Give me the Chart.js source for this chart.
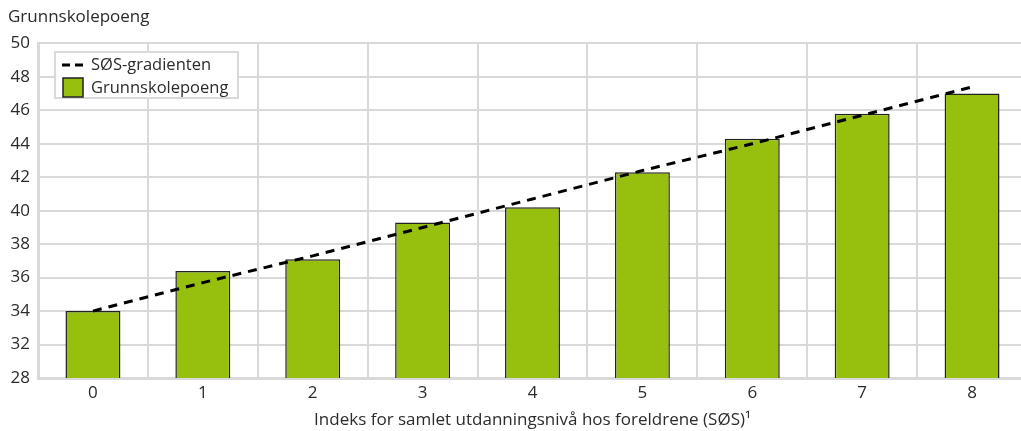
<!DOCTYPE html>
<html>
<head>
<meta charset="utf-8">
<script src="https://cdn.jsdelivr.net/npm/chart.js@4/dist/chart.umd.min.js"></script>
<style>
  html, body { margin: 0; padding: 0; background: #fff; overflow: hidden; }
  #wrap { width: 1027px; height: 431px; }
</style>
</head>
<body>
<div id="wrap"><canvas id="c"></canvas></div>
<script>
const categories = ['0', '1', '2', '3', '4', '5', '6', '7', '8']
const scores = [34.0, 36.4, 37.1, 39.3, 40.2, 42.3, 44.3, 45.8, 47.0]
const gradient = [34.0, 35.7, 37.3, 39.0, 40.7, 42.4, 44.0, 45.7, 47.4]
// axis is broken: the bottom tick is labelled 28 though the step is 2
const yTickLabels = {30: '28'}

const font = "'Open Sans', 'Noto Sans', sans-serif"
const grid = '#d9d9d9'
const text = '#2b2b2b'
const green = '#97bf0d'

// legend drawn inside the plot area, top left
const boxLegend = {
  id: 'boxLegend',
  afterDraw(chart) {
    const ctx = chart.ctx
    const x = 55, y = 52, w = 183, h = 46
    ctx.save()
    ctx.fillStyle = '#fff'
    ctx.fillRect(x, y, w, h)
    ctx.strokeStyle = grid
    ctx.lineWidth = 2
    ctx.strokeRect(x, y, w, h)

    const line = chart.data.datasets[0]
    const bar = chart.data.datasets[1]

    ctx.strokeStyle = '#000'
    ctx.lineWidth = 3
    ctx.setLineDash([8, 5])
    ctx.beginPath()
    ctx.moveTo(62, 65)
    ctx.lineTo(84, 65)
    ctx.stroke()
    ctx.setLineDash([])

    ctx.fillStyle = green
    ctx.fillRect(63, 78, 20, 19)
    ctx.strokeStyle = '#222'
    ctx.lineWidth = 1.5
    ctx.strokeRect(63, 78, 20, 19)

    ctx.fillStyle = text
    ctx.font = '16.5px ' + font
    ctx.textBaseline = 'middle'
    ctx.fillText(line.label, 91, 65)
    ctx.fillText(bar.label, 91, 88)
    ctx.restore()
  }
}

new Chart(document.getElementById('c'), {
  data: {
    labels: categories,
    datasets: [
      {
        type: 'line',
        label: 'SØS-gradienten',
        data: gradient,
        borderColor: '#000',
        borderWidth: 3,
        borderDash: [9, 7],
        pointRadius: 0,
        fill: false,
        tension: 0
      },
      {
        type: 'bar',
        label: 'Grunnskolepoeng',
        data: scores,
        backgroundColor: green,
        borderColor: '#222',
        borderWidth: 1.5,
        barPercentage: 0.5,
        categoryPercentage: 1.0
      }
    ]
  },
  options: {
    responsive: true,
    maintainAspectRatio: false,
    animation: false,
    layout: { padding: { left: 8, right: 0, top: 0, bottom: 0 } },
    plugins: {
      legend: { display: false },
      tooltip: { enabled: false },
      title: {
        display: true,
        text: 'Grunnskolepoeng',
        align: 'start',
        color: text,
        font: { family: font, size: 17, weight: 'normal' },
        padding: { top: 7, bottom: 16 }
      }
    },
    scales: {
      x: {
        grid: { color: grid, lineWidth: 2, drawTicks: false, offset: true },
        border: { color: grid, width: 3 },
        ticks: { color: text, font: { family: font, size: 17 }, padding: 5 },
        title: {
          display: true,
          text: 'Indeks for samlet utdanningsnivå hos foreldrene (SØS)¹',
          color: text,
          font: { family: font, size: 17 },
          padding: { top: 0, bottom: 1 }
        },
        afterFit: s => { s.height = 53 }
      },
      y: {
        min: 30,
        max: 50,
        grid: { color: grid, lineWidth: 2, drawTicks: false },
        border: { color: grid, width: 3 },
        ticks: {
          stepSize: 2,
          color: text,
          font: { family: font, size: 17 },
          padding: 8,
          callback: v => yTickLabels[v] || String(v)
        },
        afterFit: s => { s.width = 30 }
      }
    }
  },
  plugins: [boxLegend]
})
</script>
</body>
</html>
